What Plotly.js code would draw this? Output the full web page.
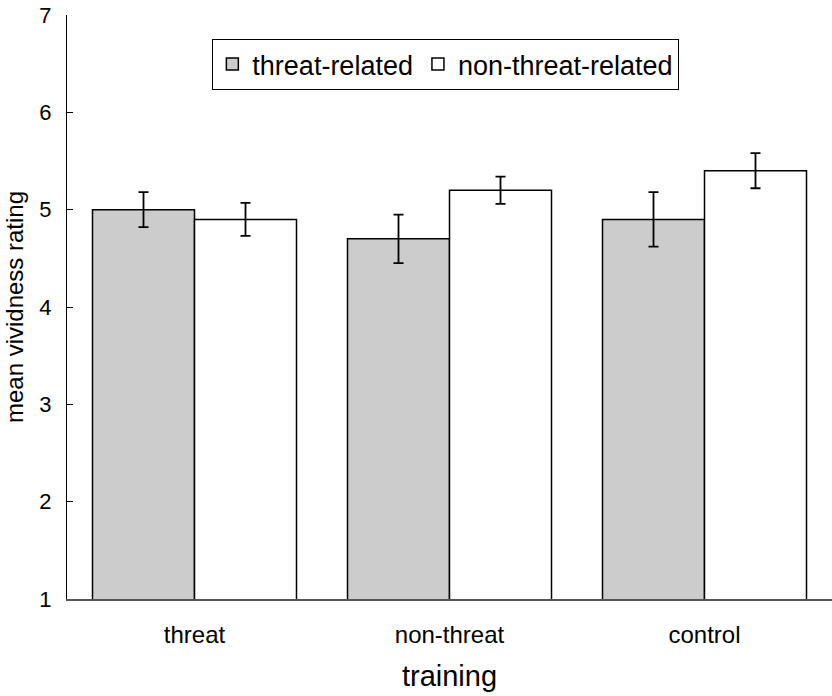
<!DOCTYPE html>
<html>
<head>
<meta charset="utf-8">
<script src="https://cdn.plot.ly/plotly-3.0.1.min.js"></script>
<style>html,body{margin:0;padding:0;background:#fff;}#chart{width:832px;height:696px;}</style>
</head>
<body>
<div id="chart"></div>
<script>
const categories = ["threat", "non-threat", "control"];
const seriesNames = ["threat-related", "non-threat-related"];
const threatRelated = [5.0, 4.7, 4.9];
const threatRelatedErr = [0.18, 0.25, 0.28];
const nonThreatRelated = [4.9, 5.2, 5.4];
const nonThreatRelatedErr = [0.17, 0.14, 0.18];
const yTicks = [1, 2, 3, 4, 5, 6, 7];

const FONT = "Liberation Sans, Arial, sans-serif";
const errStyle = {type: "data", visible: true, color: "#000", thickness: 1.8, width: 5};

const traces = [
  {
    type: "bar", name: seriesNames[0], x: categories, y: threatRelated, legendgroup: "g1",
    marker: {color: "#cccccc", line: {color: "#000", width: 1.5}},
    error_y: Object.assign({array: threatRelatedErr}, errStyle)
  },
  {
    type: "bar", name: seriesNames[1], x: categories, y: nonThreatRelated, legendgroup: "g2",
    marker: {color: "#ffffff", line: {color: "#000", width: 1.5}},
    error_y: Object.assign({array: nonThreatRelatedErr}, errStyle)
  }
];

const layout = {
  width: 832, height: 696,
  margin: {l: 67, r: 0, t: 15, b: 97},
  paper_bgcolor: "#fff", plot_bgcolor: "#fff",
  font: {family: FONT, color: "#000"},
  barmode: "group", bargap: 0.2, bargroupgap: 0,
  showlegend: true,
  legend: {
    orientation: "h", x: 0.19, y: 0.959, xanchor: "left", yanchor: "top",
    xref: "paper", yref: "paper",
    bordercolor: "#000", borderwidth: 1, bgcolor: "#fff",
    font: {size: 27, family: FONT, color: "#000"},
    traceorder: "grouped", itemwidth: 30, tracegroupgap: 12
  },
  xaxis: {
    range: [-0.5, 2.5], showline: true, linecolor: "#555", linewidth: 1.5,
    ticks: "", showgrid: false, zeroline: false,
    tickfont: {size: 24, family: FONT, color: "#000"}, ticklabelstandoff: 14,
    title: {text: "training", font: {size: 29, family: FONT, color: "#000"}, standoff: 18},
    automargin: false, fixedrange: true
  },
  yaxis: {
    range: [1, 7], tickvals: yTicks, ticktext: yTicks.map(String),
    showline: true, linecolor: "#000", linewidth: 1,
    ticks: "inside", ticklen: 6, tickcolor: "#000", tickwidth: 1,
    showgrid: false, zeroline: false,
    tickfont: {size: 22, family: FONT, color: "#000"}, ticklabelstandoff: 10,
    title: {text: "mean vividness rating", font: {size: 24, family: FONT, color: "#000"}, standoff: 8},
    automargin: false, fixedrange: true
  }
};

Plotly.newPlot("chart", traces, layout, {displayModeBar: false, staticPlot: true});
</script>
</body>
</html>
